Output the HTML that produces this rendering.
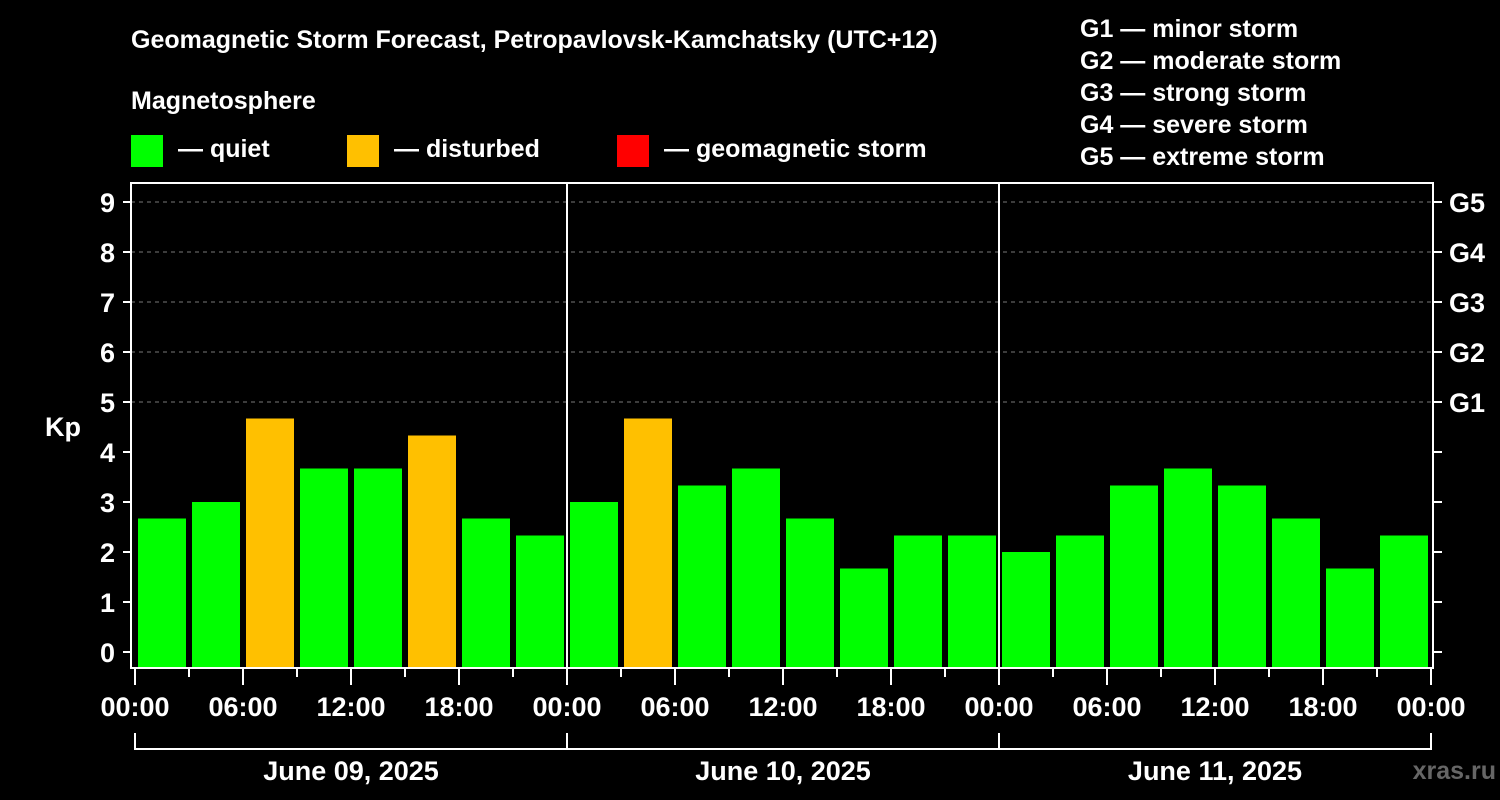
<!DOCTYPE html>
<html><head><meta charset="utf-8"><style>
body{margin:0;background:#000;}
svg{display:block;font-family:"Liberation Sans",Arial,sans-serif;font-weight:bold;}
</style></head><body>
<svg id="chart" width="1500" height="800">
<rect width="1500" height="800" fill="#000"/>
<text x="131" y="48" fill="#fff" font-size="25">Geomagnetic Storm Forecast, Petropavlovsk-Kamchatsky (UTC+12)</text>
<text x="131" y="109" fill="#fff" font-size="25">Magnetosphere</text>
<g><rect x="131" y="135" width="32" height="32" fill="#00ff00"/><text x="178" y="157" fill="#fff" font-size="25">— quiet</text></g>
<g><rect x="347" y="135" width="32" height="32" fill="#ffc000"/><text x="394" y="157" fill="#fff" font-size="25">— disturbed</text></g>
<g><rect x="617" y="135" width="32" height="32" fill="#ff0000"/><text x="664" y="157" fill="#fff" font-size="25">— geomagnetic storm</text></g>
<g fill="#fff" font-size="25">
<text x="1080" y="37">G1 — minor storm</text>
<text x="1080" y="69">G2 — moderate storm</text>
<text x="1080" y="101">G3 — strong storm</text>
<text x="1080" y="133">G4 — severe storm</text>
<text x="1080" y="165">G5 — extreme storm</text>
</g>
<text x="63" y="436" fill="#fff" font-size="27" text-anchor="middle">Kp</text>
<text x="1496" y="779" fill="#666" font-size="25" text-anchor="end">xras.ru</text>
<g id="plot"></g>
</svg>
<script>
const kpValues=[2.67,3,4.67,3.67,3.67,4.33,2.67,2.33, 3,4.67,3.33,3.67,2.67,1.67,2.33,2.33, 2,2.33,3.33,3.67,3.33,2.67,1.67,2.33];
const dayLabels=["June 09, 2025","June 10, 2025","June 11, 2025"];
const hourLabels=["00:00","06:00","12:00","18:00"];
const yTicks=[0,1,2,3,4,5,6,7,8,9];
const gLabels=["G1","G2","G3","G4","G5"];
const NS="http://www.w3.org/2000/svg";
const g=document.getElementById('plot');
const L=131,R=1433,T=183,B=668,X0=135,HOUR=18;
const y=v=>652-v*50;
const x=h=>X0+h*HOUR;
function mk(t,a,p){const e=document.createElementNS(NS,t);for(const k in a)e.setAttribute(k,a[k]);(p||g).appendChild(e);return e;}
function color(v){return v>=5?'#ff0000':(v>=4?'#ffc000':'#00ff00');}
// grid
gLabels.forEach((s,i)=>{const v=5+i;
 const l=mk('line',{x1:L,x2:R,y1:y(v),y2:y(v),stroke:'#777','stroke-dasharray':'4,4'});
 
 
 const t=mk('text',{x:1449,y:y(v)+10,fill:'#fff','font-size':27});t.textContent=s;
 
 
});
// bars
kpValues.forEach((v,i)=>{
 const r=mk('rect',{x:x(i*3)+3,y:y(v),width:48,height:B-y(v),fill:color(v)});
 
 
});
// y ticks
yTicks.forEach(v=>{
 mk('line',{x1:L-8,x2:L,y1:y(v),y2:y(v),stroke:'#fff','stroke-width':2});
 mk('line',{x1:R,x2:R+9,y1:y(v),y2:y(v),stroke:'#fff','stroke-width':2});
 const t=mk('text',{x:115,y:y(v)+10,fill:'#fff','font-size':27,'text-anchor':'end'});t.textContent=v;
 
 
});
// frame
const f=mk('rect',{x:L,y:T,width:R-L,height:B-T,fill:'none',stroke:'#fff','stroke-width':2});


// day dividers & x ticks
for(let d=0;d<=3;d++){
 if(d>0&&d<3)mk('line',{x1:x(d*24),x2:x(d*24),y1:T,y2:B,stroke:'#fff','stroke-width':2});
}
for(let h=0;h<=72;h+=3){
 const major=h%6===0;
 mk('line',{x1:x(h),x2:x(h),y1:B,y2:B+(major?17:9),stroke:'#fff','stroke-width':2});
 if(major){const t=mk('text',{x:x(h),y:716,fill:'#fff','font-size':27,'text-anchor':'middle'});
  t.textContent=hourLabels[(h/6)%4];
  
  }
}
// date brackets
mk('path',{d:`M${x(0)},733V749H${x(72)}V733`,fill:'none',stroke:'#fff','stroke-width':2});
dayLabels.forEach((s,d)=>{
 if(d>0)mk('line',{x1:x(d*24),x2:x(d*24),y1:733,y2:749,stroke:'#fff','stroke-width':2});
 const t=mk('text',{x:x(d*24+12),y:780,fill:'#fff','font-size':27,'text-anchor':'middle'});t.textContent=s;
 
 
});
</script>
</body></html>
